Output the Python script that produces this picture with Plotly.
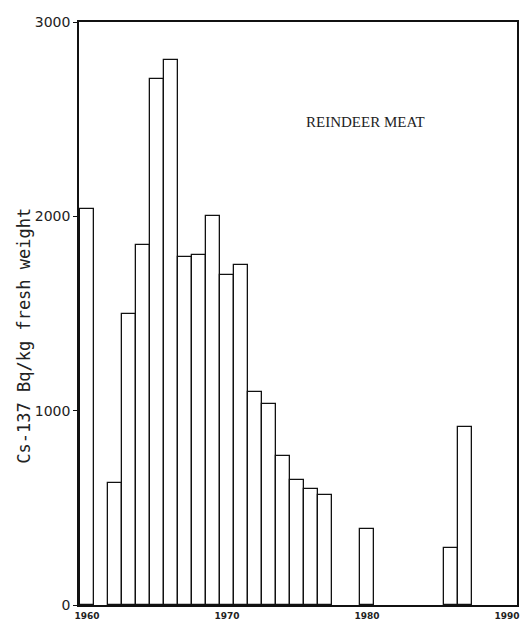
import plotly.graph_objects as go

years = [1960, 1962, 1963, 1964, 1965, 1966, 1967, 1968, 1969, 1970,
         1971, 1972, 1973, 1974, 1975, 1976, 1977, 1980, 1986, 1987]
cs137 = [2040, 630, 1500, 1850, 2705, 2805, 1790, 1800, 2000, 1700,
         1750, 1095, 1035, 765, 645, 595, 565, 392, 295, 918]

x_ticks = [1960, 1970, 1980, 1990]
y_ticks = [0, 1000, 2000, 3000]

fig = go.Figure()
fig.add_trace(go.Bar(
    x=years, y=cs137, width=1,
    marker=dict(color="white", line=dict(color="#111", width=1.3)),
    showlegend=False,
))

fig.add_annotation(
    text="REINDEER MEAT", x=0.653, y=0.8286, xref="paper", yref="paper",
    showarrow=False, xanchor="center", yanchor="middle",
    font=dict(family="Liberation Serif", size=15, color="#222"),
)
fig.add_annotation(
    text="Cs-137 Bq/kg fresh weight", x=-0.1256, y=0.462,
    xref="paper", yref="paper", textangle=-90, showarrow=False,
    xanchor="center", yanchor="middle",
    font=dict(family="DejaVu Sans Mono", size=17, color="#222"),
)

fig.update_layout(
    width=522, height=622,
    margin=dict(l=79, r=5, t=22, b=17),
    plot_bgcolor="white", paper_bgcolor="white",
    bargap=0,
    xaxis=dict(
        range=[1959.43, 1990.71], tickvals=x_ticks,
        ticktext=[str(v) for v in x_ticks],
        showline=True, linecolor="#111", linewidth=1.5, mirror=True,
        showgrid=False, zeroline=False, ticks="", ticklen=0,
        ticklabelstandoff=1, automargin=False,
        tickfont=dict(family="DejaVu Sans", size=9, color="#222", weight="bold"),
    ),
    yaxis=dict(
        range=[0, 3000], tickvals=y_ticks,
        showline=True, linecolor="#111", linewidth=1.5, mirror=True,
        showgrid=False, zeroline=False, ticks="outside", ticklen=4,
        tickcolor="#111", tickwidth=1.2, automargin=False,
        tickfont=dict(family="DejaVu Sans", size=14, color="#222"),
    ),
)

fig.write_html("out.html")
